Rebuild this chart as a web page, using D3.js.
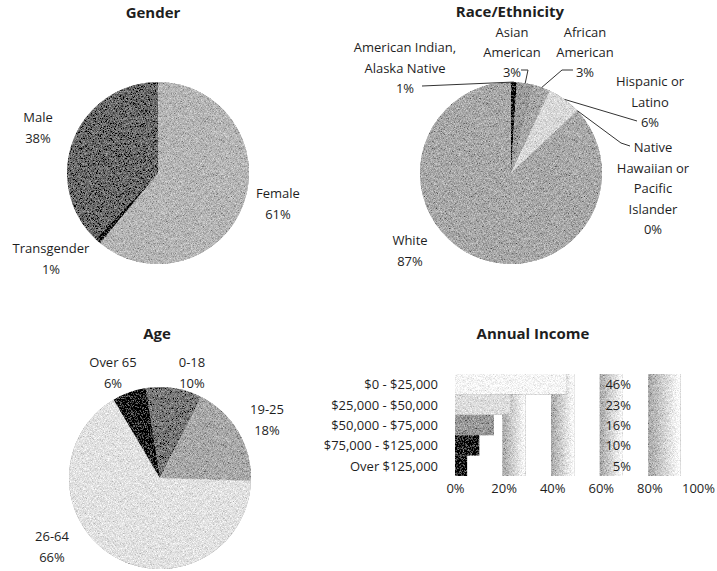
<!DOCTYPE html>
<html>
<head>
<meta charset="utf-8">
<script src="https://cdn.jsdelivr.net/npm/d3@7"></script>
<style>
body { margin: 0; background: #fff; }
text { font-family: "Open Sans", sans-serif; fill: #1e1e1e; }
.title { font-weight: bold; font-size: 15px; }
.lbl { font-size: 13px; }
</style>
</head>
<body>
<svg id="chart" width="717" height="571"></svg>
<script>
// gender
const genderCats = ["Female", "Transgender", "Male"];
const genderVals = [61, 1, 38];
// race / ethnicity
const raceCats = ["American Indian, Alaska Native", "Asian American", "African American",
                  "Hispanic or Latino", "Native Hawaiian or Pacific Islander", "White"];
const raceVals = [1, 3, 3, 6, 0, 87];
// age
const ageCats = ["0-18", "19-25", "26-64", "Over 65"];
const ageVals = [10, 18, 66, 6];
// income
const incomeCats = ["$0 - $25,000", "$25,000 - $50,000", "$50,000 - $75,000", "$75,000 - $125,000", "Over $125,000"];
const incomeVals = [46, 23, 16, 10, 5];
const incomeTicks = [0, 20, 40, 60, 80, 100];

const svg = d3.select("#chart");
const defs = svg.append("defs");

// grainy print look
const grain = defs.append("filter").attr("id", "grain")
    .attr("x", 0).attr("y", 0).attr("width", 1).attr("height", 1);
grain.append("feTurbulence").attr("type", "fractalNoise").attr("baseFrequency", 1.6)
    .attr("numOctaves", 1).attr("seed", 4).attr("result", "noise");
grain.append("feColorMatrix").attr("in", "noise").attr("type", "matrix")
    .attr("values", "0.33 0.33 0.33 0 0 0.33 0.33 0.33 0 0 0.33 0.33 0.33 0 0 0 0 0 0 1")
    .attr("result", "gray");
grain.append("feComposite").attr("in", "SourceGraphic").attr("in2", "gray")
    .attr("operator", "arithmetic").attr("k1", 0).attr("k2", 1).attr("k3", 1.5).attr("k4", -0.75)
    .attr("result", "mix");
grain.append("feComposite").attr("in", "mix").attr("in2", "SourceGraphic").attr("operator", "in");

// faded band behind each gridline of the bar chart
const band = defs.append("linearGradient").attr("id", "band");
band.append("stop").attr("offset", "0%").attr("stop-color", "#a8a8a8");
band.append("stop").attr("offset", "100%").attr("stop-color", "#ffffff");

function title(x, y, t) {
  svg.append("text").attr("class", "title").attr("x", x).attr("y", y)
     .attr("text-anchor", "middle").attr("dominant-baseline", "central").text(t);
}

function multiLabel(x, y, lines, lh) {
  const t = svg.append("text").attr("class", "lbl").attr("text-anchor", "middle");
  lines.forEach((l, i) => {
    t.append("tspan").attr("x", x).attr("y", y + i * lh).attr("dominant-baseline", "central").text(l);
  });
}

function drawPie(cfg) {
  const pie = d3.pie().sort(null).value(d => d.v)
      .startAngle(cfg.start).endAngle(cfg.start + 2 * Math.PI);
  const arc = d3.arc().innerRadius(0).outerRadius(cfg.r);
  const rows = cfg.cats.map((c, i) => ({ c: c, v: cfg.vals[i] }));
  const arcs = pie(rows);
  const g = svg.append("g").attr("transform", `translate(${cfg.cx},${cfg.cy})`)
      .attr("filter", "url(#grain)");
  g.selectAll("path").data(arcs).join("path")
    .attr("d", arc)
    .attr("fill", (d, i) => cfg.colors[i]);
  arcs.forEach((a, i) => {
    const lab = cfg.labels[i];
    multiLabel(lab.x, lab.y, lab.lines.concat([cfg.vals[i] + "%"]), lab.lh || 20.5);
    if (lab.leader) {
      const m = (a.startAngle + a.endAngle) / 2;
      const end = [cfg.cx + cfg.r * Math.sin(m), cfg.cy - cfg.r * Math.cos(m)];
      svg.append("path")
        .attr("d", d3.line()(lab.leader.concat([end])))
        .attr("fill", "none").attr("stroke", "#333").attr("stroke-width", 1);
    }
  });
}

// Gender
title(153, 12, "Gender");
drawPie({
  cx: 158, cy: 173, r: 91, start: 0,
  cats: genderCats, vals: genderVals,
  colors: ["#b6b6b6", "#111111", "#6c6c6c"],
  labels: [
    { x: 278, y: 193, lines: ["Female"] },
    { x: 51, y: 248, lines: ["Transgender"] },
    { x: 38, y: 117, lines: ["Male"] }
  ]
});

// Race / Ethnicity
title(510, 11, "Race/Ethnicity");
drawPie({
  cx: 511, cy: 173, r: 91, start: 0,
  cats: raceCats, vals: raceVals,
  colors: ["#111111", "#9c9c9c", "#a8a8a8", "#d9d9d9", "#cfcfcf", "#a9a9a9"],
  labels: [
    { x: 405, y: 47, lines: ["American Indian,", "Alaska Native"], leader: [[422, 86]] },
    { x: 512, y: 32, lh: 20, lines: ["Asian", "American"], leader: [[521, 70], [528, 70]] },
    { x: 585, y: 32, lh: 20, lines: ["African", "American"], leader: [[573, 70], [562, 70]] },
    { x: 650, y: 81, lines: ["Hispanic or", "Latino"], leader: [[637, 121]] },
    { x: 653, y: 147, lines: ["Native", "Hawaiian or", "Pacific", "Islander"], leader: [[630, 146], [621, 143]] },
    { x: 410, y: 240, lines: ["White"] }
  ]
});

// Age
title(157, 333, "Age");
drawPie({
  cx: 160, cy: 478, r: 91, start: -9 * Math.PI / 180,
  cats: ageCats, vals: ageVals,
  colors: ["#7a7a7a", "#a9a9a9", "#e2e2e2", "#151515"],
  labels: [
    { x: 192, y: 362, lines: ["0-18"] },
    { x: 267, y: 409, lines: ["19-25"] },
    { x: 52, y: 536, lines: ["26-64"] },
    { x: 113, y: 362, lines: ["Over 65"] }
  ]
});

// Annual Income
title(533, 333, "Annual Income");
const x = d3.scaleLinear().domain([0, 100]).range([455, 698]);
const y = d3.scaleBand().domain(incomeCats).range([374, 476]);

svg.append("g").selectAll("rect").data(incomeTicks.slice(1, -1)).join("rect")
  .attr("x", d => x(d) - 1)
  .attr("y", y.range()[0])
  .attr("width", d => d === 80 ? 32 : 23)
  .attr("height", y.range()[1] - y.range()[0])
  .attr("fill", "url(#band)")
  .attr("filter", "url(#grain)");

svg.append("g").attr("filter", "url(#grain)")
  .selectAll("rect").data(incomeVals).join("rect")
  .attr("x", x(0))
  .attr("y", (d, i) => y(incomeCats[i]))
  .attr("width", d => x(d) - x(0))
  .attr("height", y.bandwidth())
  .attr("fill", (d, i) => ["#f6f6f6", "#dedede", "#9a9a9a", "#1e1e1e", "#141414"][i]);

svg.append("g").selectAll("text").data(incomeCats).join("text")
  .attr("class", "lbl").attr("x", 438).attr("y", d => y(d) + y.bandwidth() / 2)
  .attr("text-anchor", "end").attr("dominant-baseline", "central").text(d => d);

svg.append("g").selectAll("text").data(incomeVals).join("text")
  .attr("class", "lbl").attr("x", 631).attr("y", (d, i) => y(incomeCats[i]) + y.bandwidth() / 2)
  .attr("text-anchor", "end").attr("dominant-baseline", "central").text(d => d + "%");

const ax = svg.append("g").attr("transform", "translate(0,478)")
  .call(d3.axisBottom(x).tickValues(incomeTicks).tickFormat(d => d + "%").tickSize(0).tickPadding(6));
ax.select(".domain").remove();
ax.selectAll("text").attr("class", "lbl").style("font-family", "Open Sans, sans-serif")
  .style("font-size", "13px").attr("fill", "#1e1e1e");
</script>
</body>
</html>
